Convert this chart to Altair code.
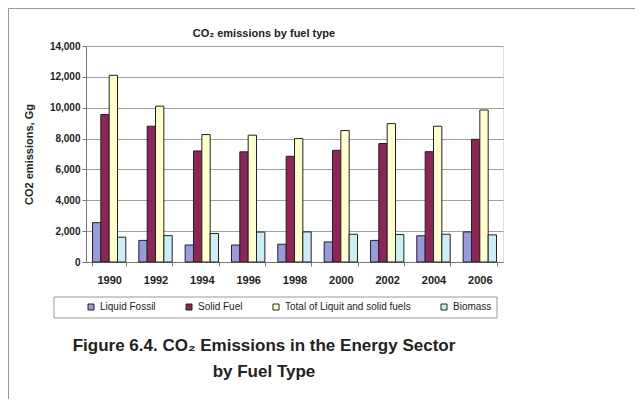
import altair as alt
import pandas as pd

years = ["1990", "1992", "1994", "1996", "1998", "2000", "2002", "2004", "2006"]
series = ["Liquid Fossil", "Solid Fuel", "Total of Liquit and solid fuels", "Biomass"]
liquid = [2550, 1400, 1100, 1100, 1150, 1300, 1400, 1700, 1950]
solid = [9560, 8800, 7200, 7140, 6850, 7240, 7680, 7150, 7950]
total = [12100, 10100, 8260, 8220, 8000, 8520, 8970, 8800, 9850]
biomass = [1610, 1710, 1850, 1940, 1950, 1800, 1780, 1800, 1760]
colors = ["#9999DD", "#8E2457", "#FFFFCC", "#CCEEF5"]

chart_title = "CO₂ emissions by fuel type"
y_title = "CO2 emissions, Gg"
caption1 = "Figure 6.4. CO₂ Emissions in the Energy Sector"
caption2 = "by Fuel Type"

rows = []
for name, vals in zip(series, [liquid, solid, total, biomass]):
    for yr, v in zip(years, vals):
        rows.append({"year": yr, "series": name, "value": v})
df = pd.DataFrame(rows)

FONT = "Liberation Sans"

bars = alt.Chart(df).mark_bar(stroke="#222222", strokeWidth=1).encode(
    x=alt.X("year:N", sort=years, title=None,
            scale=alt.Scale(paddingInner=0.28, paddingOuter=0.14),
            axis=alt.Axis(labelAngle=0, labelFont=FONT, labelFontSize=11,
                          labelFontWeight="bold", labelColor="#222",
                          labelPadding=8, tickSize=4, tickBand="extent",
                          tickColor="#777", domainColor="#777")),
    xOffset=alt.XOffset("series:N", sort=series, scale=alt.Scale(paddingInner=0)),
    y=alt.Y("value:Q", title=y_title,
            scale=alt.Scale(domain=[0, 14000], nice=False),
            axis=alt.Axis(values=list(range(0, 14001, 2000)), format=",d",
                          labelFont=FONT, labelFontSize=10, labelFontWeight="bold",
                          labelColor="#222", labelPadding=2, tickSize=4,
                          tickColor="#777", domainColor="#777",
                          gridColor="#A0A0A0", gridWidth=1.2,
                          titleFont=FONT, titleFontSize=11, titleFontWeight="bold",
                          titleColor="#222", titleX=-57, titleY=108,
                          titleAngle=-90, titleAlign="center",
                          titleBaseline="middle")),
    color=alt.Color("series:N", sort=series,
                    scale=alt.Scale(domain=series, range=colors),
                    legend=alt.Legend(orient="none", legendX=0, legendY=256,
                                      direction="horizontal", title=None,
                                      symbolType="square", symbolSize=36,
                                      symbolStrokeColor="#222",
                                      symbolStrokeWidth=1,
                                      labelFont=FONT, labelFontSize=10,
                                      labelColor="#222", columnPadding=28,
                                      labelOffset=4, padding=0)),
)

one = pd.DataFrame({"k": [0]})

legend_box = alt.Chart(one).mark_rect(fill="white", stroke="#999999",
                                      strokeWidth=1).encode(
    x=alt.value(-32), x2=alt.value(411), y=alt.value(251), y2=alt.value(272))

frame_left = alt.Chart(one).mark_rule(color="#999999", strokeWidth=1).encode(
    x=alt.value(-77.5), y=alt.value(-37.5), y2=alt.value(353))
frame_top = alt.Chart(one).mark_rule(color="#999999", strokeWidth=1).encode(
    x=alt.value(-77.5), x2=alt.value(549), y=alt.value(-37.5))

title_txt = alt.Chart(pd.DataFrame({"t": [chart_title]})).mark_text(
    font=FONT, fontSize=11, fontWeight="bold", color="#222",
    align="center", baseline="middle").encode(
    x=alt.value(178), y=alt.value(-12), text="t:N")

cap1 = alt.Chart(pd.DataFrame({"t": [caption1]})).mark_text(
    font=FONT, fontSize=17, fontWeight="bold", color="#222",
    align="center", baseline="middle").encode(
    x=alt.value(178), y=alt.value(300), text="t:N")

cap2 = alt.Chart(pd.DataFrame({"t": [caption2]})).mark_text(
    font=FONT, fontSize=17, fontWeight="bold", color="#222",
    align="center", baseline="middle").encode(
    x=alt.value(178), y=alt.value(326), text="t:N")

chart = alt.layer(frame_left, frame_top, legend_box, bars, title_txt, cap1, cap2).properties(
    width=417, height=216,
    autosize=alt.AutoSizeParams(type="none"),
    padding={"left": 78, "top": 38, "right": 132, "bottom": 137},
).configure_view(stroke="#999999", strokeWidth=1.2).configure(background="white")

chart.save("out.html", embed_options={"renderer": "svg", "actions": False})
